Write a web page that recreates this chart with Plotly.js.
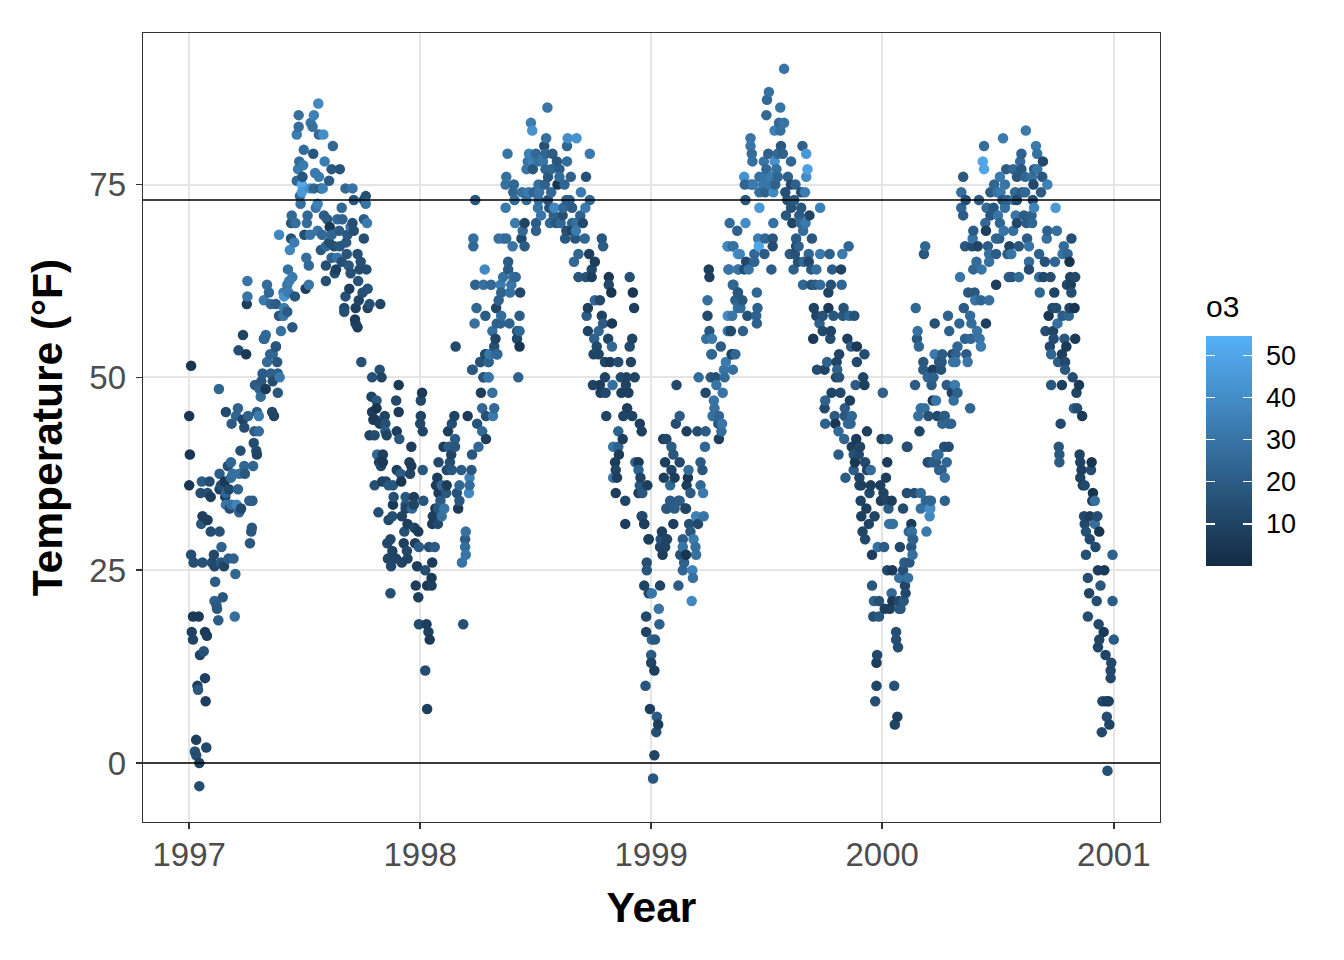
<!DOCTYPE html>
<html><head><meta charset="utf-8">
<script src="https://cdn.plot.ly/plotly-3.0.1.min.js"></script>
<style>html,body{margin:0;padding:0;background:#fff}</style></head>
<body><div id="chart" style="width:1344px;height:960px"></div>
<script>
// each observation: [days since 1997-01-01, temperature in F, ozone]
const obs1997Early=[[3,51.5,5],[0,45,5],[1,40,5],[0,36,5],[3,27,15],[7,26,14],[21,26,16],[36,26,14],[40,25.5,12],[55,25.5,10],[50,26,18],[62,26.5,20],[70,26.5,22],[39,27,12],[51,28,22],[73,24.5,24],[41,23.5,20],[53,21.5,18],[40,21,22],[43,20.5,20],[44,20,18],[46,18.5,20],[72,19,28],[6,19,6],[15,19,6],[4,17,9],[6,16,10],[25,17,7],[28,16.5,7],[23,14.5,16],[17,14,10],[25,11,9],[13,10,8],[14,9.5,18],[26,8,8],[11,3,8],[27,2,12],[9,1.5,16],[11,1,14],[16,0,9],[16,-3,14],[78,53.5,14],[90,53,6],[47,48.5,24],[137,54,16],[118,55,18],[128,53,22],[132,53,24],[123,52,26],[139,52,18],[116,50.5,20],[129,50.5,22],[140,50.5,22],[143,50,32],[104,49,20],[114,49.5,18],[132,49.5,14],[121,48.5,6],[111,48.5,22],[140,48,18],[113,47.5,26],[58,45.5,12],[77,46,22],[74,45,24],[93,45,22],[107,45.5,20],[110,45,32],[131,45.5,12],[134,45,10],[67,44,20],[85,44.5,10],[87,43.5,14],[103,43,20],[110,43,26],[102,41.5,14],[81,40.5,15],[106,40.5,14],[107,40,10],[66,39,24],[87,38.5,24],[101,38.5,24],[48,37.5,20],[61,38.5,15],[69,37.5,28],[79,37.5,28],[88,37.5,18],[56,36.5,6],[66,37,26],[20,36.5,20],[32,36.5,14],[50,36,15],[48,35.5,8],[63,35.5,12],[77,35.5,22],[58,35,24],[18,35,14],[29,35,14],[34,34.5,8],[57,34.5,8],[58,33.5,30],[75,33.5,36],[67,33.5,28],[95,34,22],[100,34,20],[64,33,14],[82,33,12],[79,32.5,22],[21,32,8],[29,31.5,8],[19,31,18],[34,30,14],[48,30,16],[99,30.5,18],[98,30,18],[96,28.5,18]];
const obs1997Summer=[[204,85.5,38],[173,84,28],[197,84,35],[173,82.5,27],[192,83,30],[195,82.5,28],[170,81.5,33],[205,81.5,25],[212,81.5,40],[227,80,25],[181,79.5,26],[196,79,17],[214,78,33],[174,78,26],[180,77.5,32],[172,77,32],[225,77,18],[238,77,17],[199,76.5,32],[205,76,32],[170,75.5,24],[179,76,17],[221,75.5,20],[178,75,50],[191,74.5,40],[197,74.5,24],[208,74.5,18],[211,74.5,35],[247,74.5,25],[258,74.5,30],[178,74,45],[175,73.5,24],[279,73.5,15],[260,73,17],[276,73,14],[279,72.5,30],[176,72.5,28],[203,72.5,35],[200,72,30],[241,72,25],[162,71,25],[187,71,25],[213,71,20],[218,70.5,20],[234,70.5,25],[242,70.5,22],[161,70,18],[168,70,28],[186,70,27],[258,70,15],[276,70.5,20],[281,70,32],[222,69.5,5],[260,69,15],[255,69.5,30],[142,68.5,38],[182,68.5,15],[191,68.5,30],[203,69,30],[210,68.5,25],[225,68.5,24],[237,69,20],[276,68,15],[250,68.5,18],[161,68,15],[166,67.5,33],[159,66.5,38],[208,66.5,18],[221,67.5,15],[229,67,15],[238,67,18],[248,67.5,18],[216,67,25],[249,66,17],[266,66,15],[185,65.5,28],[225,65.5,22],[234,65.5,30],[241,65,15],[252,64.5,18],[271,65,15],[189,64.5,25],[216,64.5,15],[232,64,8],[156,64,28],[163,63,32],[255,63.5,15],[269,64,14],[280,64,14],[230,63.5,15],[216,62.5,15],[267,62.5,16],[158,62.5,33],[155,62,30],[189,62,30],[184,61.5,8],[253,61.5,8],[282,61.5,16],[149,61,33],[157,61,33],[274,61,15],[150,60.5,42],[167,60.5,17],[247,60.5,15],[268,60,10],[118,60,32],[92,60.5,30],[91,59.5,8],[129,59.5,25],[137,59.5,20],[285,59.5,15],[302,59.5,10],[282,59,10],[245,59,12],[263,59,8],[150,59,32],[155,58.5,20],[142,58,17],[149,58,30],[245,58.5,15],[262,57.5,6],[263,57,8],[266,56.5,8],[163,56.5,18],[145,56,28],[121,55.5,25],[119,55,25],[85,55.5,10],[137,54,17],[92,62.5,30],[123,62,27],[126,61,25]];
const obsWinter98=[[272,52,15],[301,51,15],[289,50,15],[304,50,10],[331,49,6],[368,48,6],[366,47,12],[327,47,12],[288,47.5,10],[296,47,18],[296,46,4],[289,45.5,8],[331,45.5,6],[366,45,10],[309,45,10],[291,44.5,7],[294,44.5,6],[301,44,8],[310,44,15],[365,44,12],[328,43,8],[369,43,10],[310,43,20],[285,42.5,10],[293,42.5,14],[312,42.5,10],[332,42,18],[351,41,8],[297,40,25],[306,40,8],[300,39,8],[306,39,6],[303,38.5,12],[348,39,8],[351,38.5,7],[369,38,18],[328,38,8],[334,37.5,20],[349,37.5,10],[305,36.5,8],[311,36.5,10],[335,36.5,4],[293,36,15],[315,36,18],[322,36,18],[323,34.5,15],[322,33.5,6],[342,34.5,18],[355,34.5,8],[342,33.5,18],[355,33.5,10],[370,34,17],[352,33,25],[342,33,10],[299,32.5,15],[321,32,15],[315,31.5,12],[336,32,10],[345,31,8],[356,30.5,10],[340,30,15],[362,30,6],[318,29,12],[313,28.5,12],[339,28.5,8],[357,28.5,8],[363,28,20],[379,28,15],[388,28,20],[321,27.5,10],[344,27.5,12],[314,26.5,10],[327,26.5,10],[336,26,10],[345,26.5,10],[319,25.5,12],[360,25.5,8],[384,26,7],[373,25,14],[383,24,6],[358,23,8],[376,23,5],[383,23,8],[362,21.5,8],[318,22,15],[363,18,13],[375,18,8],[433,18,15],[378,17,9],[380,16,6],[373,12,14],[376,7,8]];
const obsSpring98=[[394,39,12],[402,41,8],[409,43,8],[415,44,15],[419,45,10],[440,45,7],[455,44,17],[463,43,25],[469,42,8],[457,41,25],[447,40,18],[414,40,10],[420,42,20],[420,41,18],[410,41,20],[412,39,15],[407,38,12],[415,38,18],[430,38,20],[446,38,18],[392,37,7],[443,37,35],[390,36,8],[399,36,25],[407,36,7],[427,36,25],[443,36,27],[442,35,38],[394,35,7],[406,35,18],[423,35,16],[397,34,20],[427,34,18],[425,33,6],[403,33,30],[393,33,18],[389,33,5],[385,32,8],[399,32,28],[384,31,8],[393,31,12],[437,30,28],[436,29,20],[436,28,27],[437,27,30],[431,26,30],[461,48,8],[479,48,28],[463,46,25],[482,46,25],[469,45,15],[480,45,32],[465,50,18],[473,50,30],[447,51,18],[460,52,16],[473,52,22],[474,53,30],[486,53,22],[468,53,12]];
const obs1998Summer=[[566,85,30],[540,83,33],[542,82,42],[564,81,28],[598,81,40],[612,81,42],[561,80,15],[597,80,24],[503,79,30],[537,79,35],[548,79,25],[563,79,24],[574,79,20],[633,79,32],[535,78,30],[543,78,35],[552,78,28],[559,78,30],[581,78,18],[597,78,27],[533,77,30],[543,77,18],[563,77,24],[572,77,24],[585,77,20],[501,76,28],[567,76,18],[585,76,26],[603,76,22],[627,76,16],[500,75,28],[513,75,24],[552,75,28],[562,75,22],[582,75,4],[593,75,24],[512,74,24],[526,74,28],[536,74,33],[544,74,24],[553,74,30],[572,74,25],[619,74,32],[452,73,17],[514,73,26],[533,73,27],[552,73,28],[567,73,15],[596,73,22],[601,73,22],[633,73,24],[500,72,32],[551,72,30],[569,72,16],[577,72,38],[591,72,25],[605,72,20],[626,72,32],[556,71,30],[576,71,22],[590,71,15],[618,71,22],[515,70,33],[530,70,10],[548,70,20],[570,70,25],[580,70,18],[587,70,25],[605,70,22],[611,70,28],[622,70,12],[527,69,25],[548,69,22],[596,69,15],[605,69,10],[611,69,32],[449,68,28],[489,68,28],[496,68,30],[501,68,26],[525,68,12],[594,68,18],[610,68,18],[625,68,24],[652,68,18],[449,67,25],[511,67,30],[530,67,20],[654,67,20],[615,66,24],[632,66,8],[608,65,25],[641,65,8],[504,65,20],[504,64,20],[467,64,38],[636,64,12],[496,63,28],[512,63,28],[516,63,25],[615,63,18],[627,63,16],[636,63,8],[663,63,5],[696,63,15],[452,62,22],[465,62,28],[477,62,25],[492,62,33],[509,62,30],[663,62,12],[493,61,22],[507,61,28],[523,61,12],[667,61,4],[701,61,5],[489,60,22],[641,60,25],[649,60,12],[454,59,24],[485,59,10],[630,59,8],[703,59,8],[468,58,20],[493,58,26],[522,58,20],[628,58,20],[652,58,10],[451,57,28],[486,57,22],[492,57,22],[506,57,22],[654,57,20],[668,57,6],[479,56,28],[522,56,24],[518,56,18],[630,56,10],[647,56,24],[484,55,10],[518,55,12],[640,55,22],[662,55,10],[700,55,10],[421,54,12],[482,54,15],[522,54,5],[644,54,12],[668,54,25],[696,54,12],[468,53,12],[476,53,30],[487,53,25],[639,53,10],[647,53,10],[460,52,16],[473,52,22],[657,52,10],[665,52,6],[678,52,14],[698,52,10],[448,51,18],[465,50,18],[473,50,30],[520,50,22],[657,50,10],[682,50,12],[691,50,10],[704,50,10]];
const obsFall98=[[638,49,10],[649,49,8],[669,49,28],[690,49,10],[650,48,8],[658,48,12],[683,48,8],[694,48,8],[692,46,8],[659,45,10],[686,45,10],[700,45,10],[712,44,8],[715,43,8],[678,43,22],[685,42,8],[670,41,30],[678,41,22],[679,40,7],[673,39,7],[705,39,22],[710,39,6],[674,38,10],[710,38,22],[670,37,30],[676,37,8],[713,37,10],[712,36,18],[724,36,8],[674,35,8],[710,35,8],[716,35,18],[689,34,10],[715,32,10],[689,31,8],[719,31,6],[726,29,8]];
const obsSpring99=[[821,64,8],[822,63,8],[852,64,30],[867,64,35],[859,67,25],[851,67,30],[867,66,45],[859,62,25],[867,61,20],[819,60,28],[863,60,22],[867,59,28],[819,58,12],[851,58,40],[858,58,30],[822,56,18],[851,56,30],[855,56,20],[817,55,28],[826,55,32],[840,54,20],[826,53,24],[858,53,10],[863,53,24],[848,52,32],[845,51,30],[859,51,28],[805,50,26],[824,50,18],[832,50,15],[846,50,26],[770,49,12],[833,49,30],[816,48,12],[843,48,30],[829,47,30],[830,46,28],[775,45,20],[827,45,28],[837,45,24],[769,44,14],[836,44,18],[842,44,30],[786,43,8],[803,43,14],[816,43,20],[841,43,26],[837,42,8],[754,42,12],[749,42,8],[762,41,20],[815,41,24],[765,40,18],[752,39,8],[775,39,12],[808,39,20],[762,38,10],[789,38,26],[811,38,18],[750,37,8],[767,37,8],[788,37,5],[786,36,8],[760,36,24],[808,36,25],[792,35,20],[812,35,32],[760,34,20],[773,34,20],[754,33,20],[767,33,20],[784,33,10],[801,32,35],[813,32,30],[765,31,8],[790,31,15],[804,31,12],[792,30,18],[747,30,8],[754,29,12],[780,29,20],[797,29,32]];
const obsWinter99=[[723,26,15],[723,25,17],[719,23,10],[744,23,10],[773,23,20],[731,22,30],[726,22,12],[742,20,30],[722,19,12],[743,18,22],[722,17,10],[731,16,24],[736,16,18],[730,14,20],[730,13,10],[735,12,8],[721,10,17],[728,7,8],[739,6,20],[741,5,8],[738,4,15],[735,1,10],[733,-2,18],[716,32,12],[719,31,8],[726,29,8],[755,33,18],[775,34,20],[785,33,10],[745,29,15],[755,29,10],[780,28,30],[800,28,28],[744,28,10],[752,28,10],[748,27,8],[776,27,15],[785,27,4],[801,27,28],[782,26,22],[780,25,24],[795,25,35],[796,24,28],[794,21,38]];
const obs1999Summer=[[940,90,30],[916,87,28],[913,86,25],[934,85,30],[912,84,25],[932,83,25],[940,83,30],[925,82,35],[934,82,28],[887,81,30],[887,80,30],[935,80,18],[969,80,22],[889,79,26],[915,79,22],[930,79,25],[938,79,22],[975,79,45],[890,78,28],[908,78,30],[925,78,42],[951,78,24],[912,77,25],[928,77,28],[977,77,48],[877,76,42],[901,76,28],[909,76,30],[919,76,32],[930,76,24],[946,76,22],[975,76,40],[878,75,24],[888,75,24],[891,75,32],[907,75,30],[916,75,30],[926,75,22],[951,75,12],[958,75,22],[901,74,28],[910,74,22],[923,74,38],[942,74,15],[967,74,14],[973,74,33],[879,73,18],[945,73,15],[956,73,18],[901,72,45],[951,72,16],[967,72,18],[997,72,35],[943,71,18],[964,71,20],[980,71,10],[854,70,26],[879,70,40],[923,70,28],[953,70,10],[966,70,25],[974,70,32],[866,69,22],[970,69,27],[899,68,33],[910,68,25],[922,68,18],[959,68,20],[984,68,18],[851,67,38],[860,67,28],[900,67,50],[922,67,14],[959,67,12],[963,67,22],[1042,67,24],[870,66,36],[893,66,25],[909,66,20],[949,66,20],[957,66,16],[979,66,24],[997,66,32],[1012,66,22],[1032,66,32],[880,65,12],[893,65,24],[962,65,16],[971,65,24],[979,65,12],[853,64,30],[868,64,30],[877,64,14],[884,64,30],[920,64,20],[955,64,22],[983,64,18],[991,64,28],[1016,64,20],[1030,64,10],[860,62,24],[970,62,24],[983,62,16],[989,62,20],[997,62,26],[1014,62,16],[1031,62,24],[867,61,18],[897,61,24],[1010,61,10],[874,60,18],[871,59,26],[898,59,22],[987,59,10],[1010,59,6],[1034,59,16],[882,58,16],[896,58,22],[991,58,10],[1001,58,16],[1018,58,18],[1033,58,18],[1043,58,24],[1051,58,16],[897,57,22],[996,57,22],[856,56,12],[875,56,22],[1001,56,12],[1014,56,10],[986,55,6],[1013,55,14],[1040,55,8],[1046,54,20],[1055,54,6],[825,53,24],[857,53,10],[1027,53,10],[1067,53,14]];
const obsFall99=[[1008,52,22],[1023,52,10],[1055,52,12],[992,51,14],[1004,51,10],[1024,51,22],[1022,50,12],[1027,50,16],[1065,50,10],[1053,49,20],[1067,49,8],[1015,48,10],[1029,48,12],[1096,48,22],[1005,47,22],[1044,47,8],[1004,46,12],[1036,46,20],[1020,45,20],[1036,45,18],[1047,45,24],[1005,44,22],[1021,44,5],[1041,44,25],[1045,44,24],[1026,43,25],[1071,43,8],[1035,42,24],[1054,42,6],[1094,42,10],[1104,42,18],[1047,41,8],[1060,41,10],[1134,41,14],[1026,40,20],[1050,40,16],[1058,40,12],[1052,39,5],[1068,39,12],[1103,39,6],[1050,38,20],[1071,38,10],[1077,38,26],[1037,37,20],[1059,37,10],[1101,37,8],[1059,36,12],[1062,36,8],[1077,36,8],[1092,36,8],[1075,35,12],[1097,35,10],[1134,35,14],[1146,35,15],[1156,35,26],[1061,34,10],[1093,34,8],[1104,34,10],[1110,34,8],[1070,33,8],[1105,33,20],[1128,33,14],[1062,32,8],[1083,32,10],[1074,31,10],[1106,31,30],[1112,31,28],[1141,31,8],[1064,30,10],[1137,30,24],[1142,30,28],[1068,29,12],[1144,29,22],[1088,28,28],[1098,28,20],[1123,28,12],[1141,28,18]];
const obsWinter00=[[1079,27,8],[1143,27,28],[1130,26,20],[1138,26,18],[1103,25,12],[1111,25,6],[1128,25,15],[1122,24,28],[1136,24,28],[1079,23,18],[1131,23,10],[1110,22,25],[1132,22,12],[1082,21,22],[1090,21,15],[1111,21,6],[1121,21,12],[1129,21,18],[1099,20,8],[1107,20,8],[1122,20,15],[1124,20,18],[1081,19,15],[1090,19,18],[1117,17,14],[1117,16,15],[1120,15,14],[1087,14,12],[1086,13,8],[1086,10,10],[1114,10,16],[1084,8,15],[1119,6,8],[1115,5,10]];
const obsSpring00=[[1163,67,24],[1161,66,18],[1148,59,24],[1178,57,15],[1151,56,28],[1150,55,18],[1153,54,24],[1178,53,32],[1160,52,18],[1185,52,18],[1160,51,20],[1175,51,8],[1167,50,24],[1176,50,22],[1147,49,20],[1173,49,20],[1175,47,5],[1180,47,30],[1156,46,28],[1162,46,28],[1152,45,28],[1168,45,16],[1182,45,12],[1154,43,10],[1181,40,26],[1167,39,12],[1175,39,20],[1185,38,22],[1172,34,24],[1164,34,24],[1156,33,28],[1170,33,42],[1170,32,38],[1165,30,32],[1139,30,24],[1143,29,26],[1109,31,30],[1194,45,20],[1190,44,24],[1200,44,24],[1204,44,22],[1135,41,14],[1193,41,15],[1200,41,14],[1184,40,26],[1169,39,14],[1180,39,20],[1197,39,24],[1189,38,22],[1194,37,28],[1169,34,22],[1194,34,22],[1171,33,40]];
const obs2000Summer=[[1322,82,32],[1286,81,32],[1256,80,27],[1338,80,33],[1315,79,22],[1340,79,28],[1254,78,50],[1313,78,27],[1349,78,12],[1256,77,50],[1291,77,20],[1302,77,25],[1315,77,18],[1340,77,30],[1335,77,22],[1223,76,18],[1281,76,32],[1308,76,18],[1321,76,25],[1332,76,28],[1348,76,18],[1272,75,24],[1289,75,30],[1334,75,12],[1356,75,35],[1220,74,27],[1266,74,20],[1277,74,28],[1282,74,32],[1305,74,25],[1316,74,20],[1321,74,25],[1346,74,20],[1227,73,15],[1248,73,20],[1285,73,18],[1293,73,22],[1303,73,30],[1308,73,12],[1333,73,14],[1220,72,24],[1260,72,26],[1271,72,18],[1289,72,28],[1335,72,36],[1369,72,45],[1223,71,20],[1266,71,18],[1278,71,30],[1306,71,30],[1319,71,20],[1331,71,22],[1258,70,25],[1281,70,24],[1308,70,12],[1323,70,20],[1332,70,24],[1239,69,20],[1259,69,8],[1287,69,30],[1302,69,28],[1356,69,22],[1371,69,28],[1238,68,30],[1275,68,24],[1280,68,22],[1324,68,20],[1355,68,28],[1394,68,15],[1226,67,18],[1237,67,14],[1246,67,10],[1262,67,20],[1296,67,10],[1311,67,18],[1327,67,30],[1382,67,26],[1264,66,28],[1275,66,20],[1293,66,20],[1299,66,30],[1343,66,22],[1380,66,30],[1388,66,24],[1244,65,26],[1264,65,28],[1327,65,26],[1352,65,16],[1368,65,24],[1391,65,4],[1239,64,24],[1252,64,30],[1327,64,14],[1218,63,30],[1295,63,20],[1300,63,18],[1311,63,26],[1343,63,26],[1350,63,12],[1361,63,14],[1392,63,10],[1400,63,12],[1275,62,8],[1387,62,12],[1393,62,8],[1231,61,18],[1241,61,18],[1344,61,24],[1367,61,10],[1394,61,14],[1242,60,30],[1251,60,24],[1264,60,28],[1224,59,20],[1364,59,12],[1370,59,14],[1391,59,10],[1399,59,4],[1199,58,22],[1234,58,26],[1358,58,5],[1380,58,20],[1390,58,24],[1217,57,24],[1236,57,26],[1259,57,8],[1372,57,28],[1201,56,22],[1245,56,30],[1353,56,14],[1365,56,10],[1226,55,22],[1235,55,24],[1249,55,30],[1366,55,14],[1383,55,18],[1400,55,6],[1214,54,24],[1251,54,32],[1360,54,12],[1386,54,6],[1190,53,20],[1206,53,12],[1211,53,22],[1228,53,20],[1362,53,24],[1379,53,8],[1189,52,18],[1207,52,30],[1211,52,30],[1230,52,30],[1373,52,20],[1384,52,12],[1188,51,16],[1384,51,18],[1396,50,14],[1197,49,20],[1210,49,33],[1362,49,18],[1379,49,8],[1406,49,6],[1205,48,10],[1214,48,22],[1402,48,10],[1208,47,28],[1234,46,24],[1398,46,22],[1403,46,14],[1193,45,18],[1411,45,6]];
const obsFall00=[[1377,44,12],[1374,41,17],[1375,40,18],[1375,39,20],[1407,40,10],[1408,39,10],[1426,39,4],[1410,38,8],[1425,38,14],[1408,37,10],[1412,36,8],[1415,36,12],[1428,35,4],[1427,34,8],[1431,34,28],[1414,32,12],[1423,32,8],[1435,32,14],[1415,31,12],[1431,31,28],[1417,30,16],[1438,30,5],[1423,29,12],[1432,28,12],[1417,27,15],[1459,27,22],[1436,25,8],[1446,25,6],[1420,24,14],[1440,23,18],[1422,22,10],[1434,21,14],[1459,21,20],[1420,19,14],[1437,18,12],[1445,17,6],[1438,16,10],[1461,16,20],[1436,15,10],[1448,14,10],[1457,13,12],[1456,12,12],[1456,11,12],[1443,8,12],[1449,8,8],[1453,8,8],[1450,6,14],[1454,5,10],[1442,4,12],[1451,-1,15]];
const yearTickDays=[0,365,730,1095,1461];
const yearTickLabels=['1997','1998','1999','2000','2001'];
const tempTicks=[0,25,50,75];
const referenceTemps=[0,73];
const o3Ticks=[10,20,30,40,50];
const o3Range=[0,54.6];
const colorLow='#132B43', colorHigh='#56B1F7';

const all=[].concat(obs1997Early,obs1997Summer,obsWinter98,obsSpring98,obs1998Summer,obsFall98,obsSpring99,obsWinter99,obs1999Summer,obsFall99,obsWinter00,obsSpring00,obs2000Summer,obsFall00).sort((a,b)=>a[0]-b[0]);
const scale=[[0,colorLow],[1,colorHigh]];
const font='"Liberation Sans", Arial, sans-serif';
const panel={l:142.5,r:1160.5,t:32.5,b:822.5};
const W=panel.r-panel.l,H=panel.b-panel.t;
const barTop=336,barBot=566,barLeft=1207,barW=46,tickLen=9;
const barBase={thicknessmode:'pixels',len:barBot-barTop,lenmode:'pixels',xanchor:'left',xpad:0,y:(panel.b-(barTop+barBot)/2)/H,yanchor:'middle',ypad:0,yref:'paper',
 outlinewidth:0,borderwidth:0,tickmode:'array',tickvals:o3Ticks};
const markerBase={cmin:o3Range[0],cmax:o3Range[1],colorscale:scale,showscale:true};
const main={type:'scatter',mode:'markers',x:all.map(o=>o[0]),y:all.map(o=>o[1]),hoverinfo:'skip',showlegend:false,
 marker:Object.assign({},markerBase,{size:10.5,color:all.map(o=>o[2]),line:{width:0},
  colorbar:Object.assign({},barBase,{thickness:barW,x:(barLeft-panel.l)/W,ticktext:o3Ticks.map(String),ticks:'outside',ticklen:tickLen,tickwidth:1,tickcolor:'#fff',
   tickfont:{family:font,size:27,color:'#000'}})})};
function tickStrip(px){return {type:'scatter',mode:'markers',x:[null],y:[null],hoverinfo:'skip',showlegend:false,
 marker:Object.assign({},markerBase,{color:[0],colorbar:Object.assign({},barBase,{thickness:tickLen,x:(px-panel.l)/W,ticks:'inside',ticklen:tickLen,tickwidth:1.3,tickcolor:'#fff',showticklabels:false})})};}
const axisCommon={showline:true,linecolor:'#333333',linewidth:1.4,mirror:true,showgrid:true,gridcolor:'#E5E5E5',gridwidth:2,zeroline:false,
 ticks:'outside',ticklen:6,tickwidth:1.5,tickcolor:'#333333',tickfont:{family:font,size:33,color:'#4D4D4D'}};
const layout={width:1344,height:960,autosize:false,paper_bgcolor:'#fff',plot_bgcolor:'#fff',
 margin:{l:panel.l,r:1344-panel.r,t:panel.t,b:960-panel.b,pad:0},
 xaxis:Object.assign({},axisCommon,{range:[-73,1534],tickmode:'array',tickvals:yearTickDays,ticktext:yearTickLabels,ticklabelstandoff:-3,
  title:{text:'Year',font:{family:font,size:42.5,color:'#000',weight:'bold'},standoff:20}}),
 yaxis:Object.assign({},axisCommon,{range:[-7.65,94.65],tickmode:'array',tickvals:tempTicks,ticktext:tempTicks.map(String),ticklabelstandoff:3,
  title:{text:'Temperature (°F)',font:{family:font,size:42.5,color:'#000',weight:'bold'},standoff:13}}),
 shapes:referenceTemps.map(v=>({type:'line',xref:'paper',x0:0,x1:1,yref:'y',y0:v,y1:v,line:{color:'#000',width:1.6},layer:'above'})),
 annotations:[{text:'o3',xref:'paper',yref:'paper',x:(1205-panel.l)/W,y:(panel.b-306)/H,xanchor:'left',yanchor:'middle',showarrow:false,font:{family:font,size:30,color:'#000'}}]};
Plotly.newPlot('chart',[main,tickStrip(barLeft),tickStrip(barLeft+barW-tickLen)],layout,{displayModeBar:false,staticPlot:true});
</script></body></html>
